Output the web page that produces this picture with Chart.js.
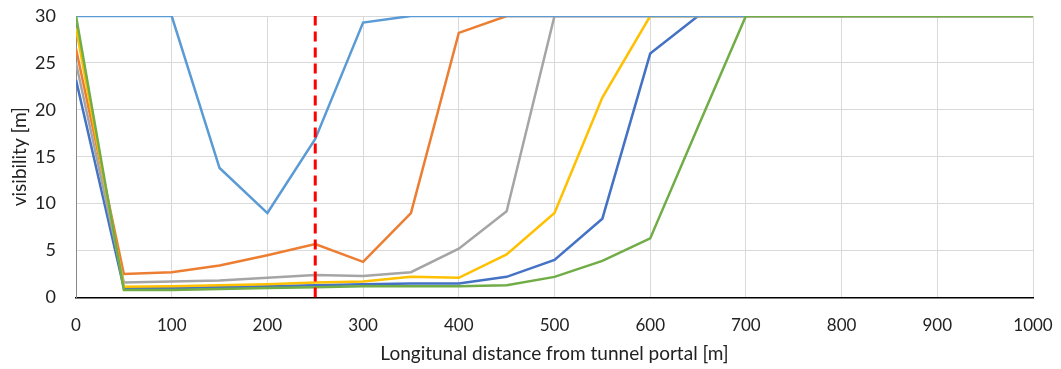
<!DOCTYPE html>
<html>
<head>
<meta charset="utf-8">
<script src="https://cdn.jsdelivr.net/npm/chart.js@4"></script>
<style>
  html, body { margin:0; padding:0; background:#fff; }
  #wrap { width:1061px; height:369px; }
</style>
</head>
<body>
<div id="wrap"><canvas id="chart"></canvas></div>
<script>
// ----- Data -----
var distance = [0, 50, 100, 150, 200, 250, 300, 350, 400, 450, 500, 550, 600, 650, 700, 750, 800, 850, 900, 950, 1000];

var blue      = [23.2, 1.0, 1.0, 1.1, 1.2, 1.3, 1.4, 1.5, 1.5, 2.2, 4.0, 8.4, 26.0, 30, 30, 30, 30, 30, 30, 30, 30];
var orange    = [26.5, 2.5, 2.7, 3.4, 4.5, 5.7, 3.8, 9.0, 28.2, 30, 30, 30, 30, 30, 30, 30, 30, 30, 30, 30, 30];
var gray      = [25.0, 1.6, 1.7, 1.8, 2.1, 2.4, 2.3, 2.7, 5.2, 9.2, 30, 30, 30, 30, 30, 30, 30, 30, 30, 30, 30];
var yellow    = [28.7, 1.15, 1.2, 1.3, 1.4, 1.6, 1.7, 2.2, 2.1, 4.6, 9.0, 21.3, 30, 30, 30, 30, 30, 30, 30, 30, 30];
var lightBlue = [30, 30, 30, 13.8, 9.0, 16.9, 29.3, 30, 30, 30, 30, 30, 30, 30, 30, 30, 30, 30, 30, 30, 30];
var green     = [30, 0.8, 0.8, 0.9, 1.0, 1.1, 1.2, 1.2, 1.2, 1.3, 2.2, 3.9, 6.3, 18.2, 30, 30, 30, 30, 30, 30, 30];

// portal reference line
var refX = [250, 250];
var refY = [0, 30];

var xTicks = [0, 100, 200, 300, 400, 500, 600, 700, 800, 900, 1000];
var yTicks = [0, 5, 10, 15, 20, 25, 30];

function pts(ys, xs) {
  return ys.map(function(y, i){ return {x: xs[i], y: y}; });
}

function series(data, color, order) {
  return {
    data: pts(data, distance),
    borderColor: color,
    borderWidth: 2.5,
    pointRadius: 0,
    tension: 0,
    fill: false,
    order: order
  };
}

var font = "Lato, 'Open Sans', sans-serif";

new Chart(document.getElementById('chart'), {
  type: 'line',
  data: {
    datasets: [
      {
        data: pts(refY, refX),
        borderColor: '#FF0000',
        borderWidth: 3,
        borderDash: [10, 6],
        pointRadius: 0,
        order: 0
      },
      series(green, '#70AD47', 1),
      series(lightBlue, '#5B9BD5', 2),
      series(yellow, '#FFC000', 3),
      series(gray, '#A5A5A5', 4),
      series(orange, '#ED7D31', 5),
      series(blue, '#4472C4', 6)
    ]
  },
  options: {
    responsive: true,
    maintainAspectRatio: false,
    animation: false,
    layout: { padding: { top: 16, right: 28, left: 0, bottom: 0 } },
    plugins: { legend: { display: false }, tooltip: { enabled: false } },
    scales: {
      x: {
        type: 'linear',
        min: 0, max: 1000,
        afterBuildTicks: function(axis){ axis.ticks = xTicks.map(function(v){ return {value: v}; }); },
        grid: { color: '#d9d9d9', lineWidth: 1, drawTicks: false },
        border: { color: '#000', width: 1.5 },
        ticks: { color: '#222', font: { family: font, size: 17 }, padding: 18, maxRotation: 0,
                 callback: function(v){ return String(v); } },
        title: { display: true, text: 'Longitunal distance from tunnel portal [m]', color: '#222',
                 font: { family: font, size: 19 }, padding: { top: 4, bottom: 4 } },
        afterFit: function(axis){ axis.height = 71.5; axis.paddingLeft = 0; axis.paddingRight = 0; }
      },
      y: {
        min: 0, max: 30,
        afterBuildTicks: function(axis){ axis.ticks = yTicks.map(function(v){ return {value: v}; }); },
        grid: { color: '#d9d9d9', lineWidth: 1, drawTicks: false },
        border: { color: '#888', width: 1 },
        ticks: { color: '#222', font: { family: font, size: 18 }, padding: 20 },
        title: { display: true, text: 'visibility [m]', color: '#222',
                 font: { family: font, size: 19 }, padding: { top: 8, bottom: 4 } },
        afterFit: function(axis){ axis.width = 76; axis.paddingTop = 0; axis.paddingBottom = 0; }
      }
    }
  }
});
</script>
</body>
</html>
